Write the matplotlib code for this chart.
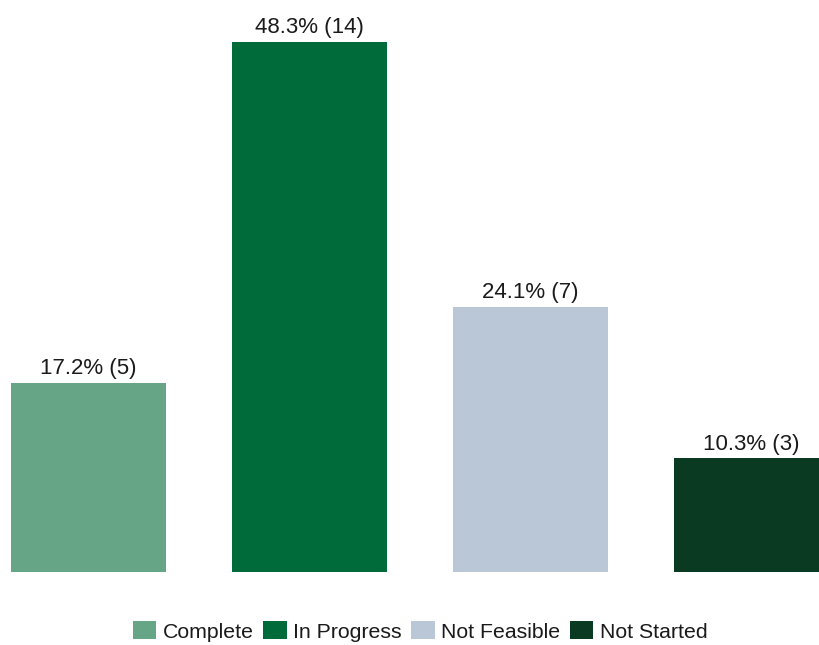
import matplotlib
matplotlib.use("Agg")
from matplotlib import pyplot as plt
from matplotlib.patches import Patch

plt.rcParams['font.family'] = ['Liberation Sans', 'DejaVu Sans']

# data
categories = ["Complete", "In Progress", "Not Feasible", "Not Started"]
counts = [5, 14, 7, 3]
percents = [17.2, 48.3, 24.1, 10.3]
colors = ["#66a586", "#006b3a", "#b9c7d6", "#0b3a23"]

fig = plt.figure(figsize=(8.19, 6.45), dpi=100)
ax = fig.add_axes([0, 1 - 572 / 645, 1, 572 / 645])

x = list(range(len(categories)))
bars = ax.bar(x, counts, width=0.70, color=colors)
for b, c, p in zip(bars, counts, percents):
    ax.text(b.get_x() + b.get_width() / 2, c + 0.1, f"{p}% ({c})",
            ha='center', va='bottom', fontsize=16, color='#1a1a1a')

ax.set_xlim(-0.4, 3.305)
ax.set_ylim(0, 15.11)
ax.axis('off')

handles = [Patch(facecolor=col, label=cat) for col, cat in zip(colors, categories)]
fig.legend(handles=handles, loc='center', bbox_to_anchor=(0.513, 0.021),
           ncol=4, frameon=False, fontsize=15.3, handlelength=1.1,
           handleheight=0.9, handletextpad=0.3, columnspacing=0.45,
           labelcolor='#1a1a1a')

fig.savefig("out.png", dpi=100, facecolor='white')
